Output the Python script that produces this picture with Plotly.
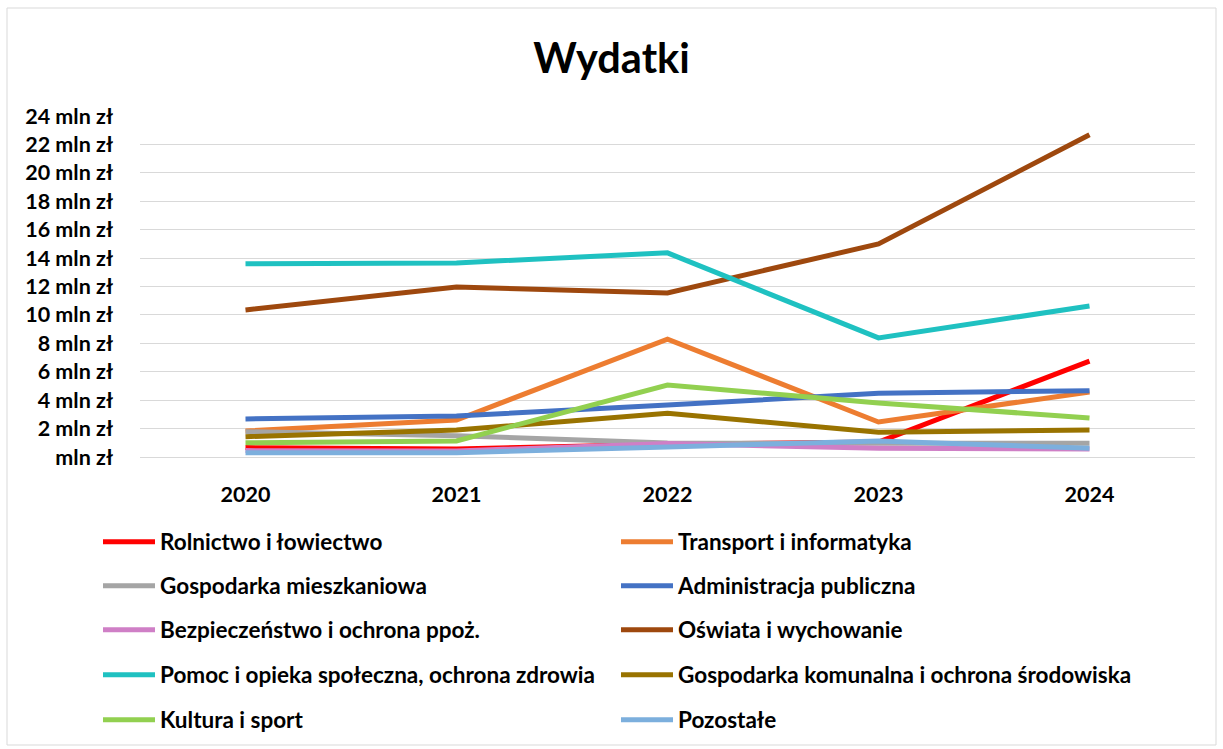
import plotly.graph_objects as go

years = ["2020", "2021", "2022", "2023", "2024"]

series_names = [
    "Rolnictwo i łowiectwo",
    "Transport i informatyka",
    "Gospodarka mieszkaniowa",
    "Administracja publiczna",
    "Bezpieczeństwo i ochrona ppoż.",
    "Oświata i wychowanie",
    "Pomoc i opieka społeczna, ochrona zdrowia",
    "Gospodarka komunalna i ochrona środowiska",
    "Kultura i sport",
    "Pozostałe",
]

# wartości w mln zł
rolnictwo = [0.66, 0.56, 0.90, 1.05, 6.75]
transport = [1.83, 2.60, 8.30, 2.46, 4.58]
mieszkaniowa = [1.78, 1.50, 0.98, 1.00, 0.96]
administracja = [2.68, 2.89, 3.66, 4.48, 4.67]
bezpieczenstwo = [0.45, 0.42, 0.95, 0.61, 0.56]
oswiata = [10.35, 11.97, 11.55, 15.00, 22.68]
pomoc = [13.60, 13.66, 14.37, 8.38, 10.63]
komunalna = [1.43, 1.90, 3.07, 1.74, 1.90]
kultura = [1.00, 1.13, 5.07, 3.80, 2.75]
pozostale = [0.30, 0.30, 0.70, 1.13, 0.61]

series_values = [rolnictwo, transport, mieszkaniowa, administracja, bezpieczenstwo,
                 oswiata, pomoc, komunalna, kultura, pozostale]

colors = ["#FF0000", "#ED7D31", "#A5A5A5", "#4472C4", "#CF7FC6",
          "#9E480E", "#1FC1C1", "#997300", "#92D050", "#7CAFDD"]

y_ticks = list(range(0, 25, 2))
y_labels = [("%d mln zł" % v) if v else "mln zł" for v in y_ticks]

FONT = "Lato, 'Open Sans', sans-serif"
PLOT_L, PLOT_T, PLOT_W, PLOT_H = 140, 116, 1055, 341

fig = go.Figure()
for i, (name, vals, col) in enumerate(zip(series_names, series_values, colors)):
    row = i // 2
    fig.add_trace(go.Scatter(
        x=years, y=vals, name=name, mode="lines",
        line=dict(color=col, width=5),
        cliponaxis=False,
        legend="legend" if row == 0 else "legend%d" % (row + 1),
    ))

# one legend per row so the row spacing matches the original
legend_rows = [542, 586, 630, 675, 720]
legends = {}
for r, yc in enumerate(legend_rows):
    key = "legend" if r == 0 else "legend%d" % (r + 1)
    legends[key] = dict(
        orientation="h", x=(98 - PLOT_L) / PLOT_W, xanchor="left",
        y=(PLOT_T + PLOT_H - yc) / PLOT_H, yanchor="middle",
        entrywidth=451, entrywidthmode="pixels", itemwidth=52,
        font=dict(size=22.5, family=FONT, color="black", weight="bold"),
        bgcolor="rgba(0,0,0,0)", traceorder="normal",
    )

fig.update_layout(
    width=1223, height=749,
    paper_bgcolor="white", plot_bgcolor="white",
    margin=dict(l=PLOT_L, r=1223 - PLOT_L - PLOT_W, t=PLOT_T, b=749 - PLOT_T - PLOT_H,
                autoexpand=False),
    font=dict(family=FONT, color="black"),
    title=dict(text="Wydatki", x=0.5, xanchor="center",
               y=1 - 58 / 749, yanchor="middle",
               font=dict(size=41.5, family=FONT, color="black", weight="bold")),
    showlegend=True,
    **legends,
)

fig.update_xaxes(
    range=[-0.5, 4.5],
    showgrid=False, showline=True, linecolor="#d9d9d9", linewidth=1,
    ticks="", tickfont=dict(size=21.5, family=FONT, color="black", weight="bold"),
    ticklabelstandoff=18,
)
fig.update_yaxes(
    range=[0, 24], tickvals=y_ticks, ticktext=y_labels,
    showgrid=True, gridcolor="#d9d9d9", gridwidth=1,
    zeroline=False, showline=False, ticks="",
    tickfont=dict(size=21.5, family=FONT, color="black", weight="bold"),
    ticklabelstandoff=26,
)

fig.add_shape(type="rect", xref="paper", yref="paper",
              x0=(7 - PLOT_L) / PLOT_W, x1=(1216 - PLOT_L) / PLOT_W,
              y0=(PLOT_T + PLOT_H - 745) / PLOT_H, y1=(PLOT_T + PLOT_H - 8) / PLOT_H,
              line=dict(color="#d9d9d9", width=1), fillcolor="rgba(0,0,0,0)", layer="below")

fig.write_html("out.html", config={"displayModeBar": False},
               post_script="document.body.style.margin='0';")
